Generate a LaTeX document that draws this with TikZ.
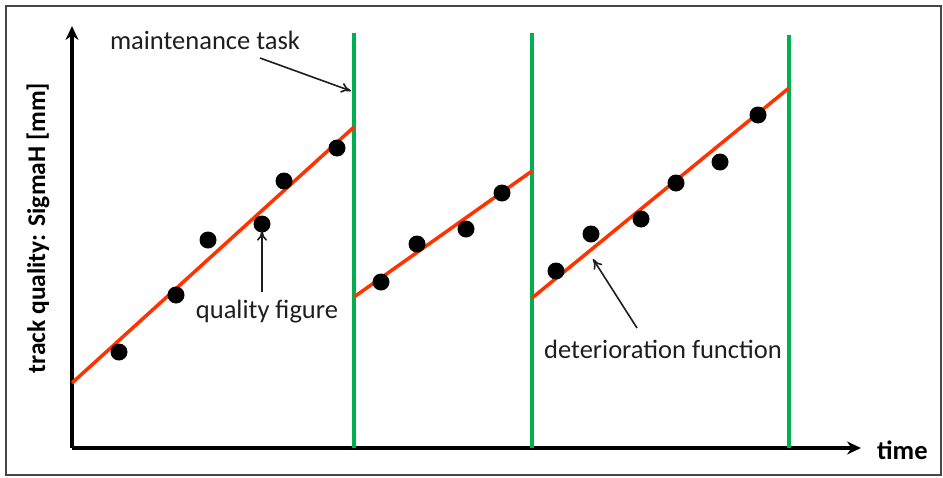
\documentclass[tikz,border=0pt]{standalone}
\usepackage{fontspec}
\setmainfont{Carlito}
\usetikzlibrary{arrows.meta}
\definecolor{mgreen}{RGB}{0,176,80}
\definecolor{fitred}{RGB}{255,51,0}
\definecolor{framegray}{RGB}{70,70,70}
\definecolor{txt}{RGB}{30,30,30}
\begin{document}
\begin{tikzpicture}[x=1pt,y=-1pt,
  axis/.style={line width=3.5pt,-{Stealth[length=14pt,width=13pt]}},
  taskline/.style={mgreen,line width=3.5pt},
  fitline/.style={fitred,line width=3.5pt},
  pt/.style={circle,fill=black,inner sep=0pt,minimum size=17pt},
  note/.style={font=\fontsize{26.5}{28}\selectfont,text=txt,inner sep=0pt},
  pointer/.style={line width=1.6pt,txt,-{To[length=10pt,width=10pt]}}]
\useasboundingbox (0,0) rectangle (943,477);
\draw[framegray,line width=1.2pt] (6,6) rectangle (941,475);

% axes
\coordinate (o) at (72,448);
\coordinate (ytop) at (72,26);
\coordinate (xend) at (861,448);
\draw[axis] (o) -- (ytop);
\draw[axis] (o) -- (xend);
\node[anchor=west,font=\bfseries\fontsize{26.5}{28}\selectfont,inner sep=0pt] (tlab) at (877,450) {time};
\node[rotate=90,font=\bfseries\fontsize{25.5}{28}\selectfont,inner sep=0pt] (ylab) at (38,228) {track quality: SigmaH [mm]};

% maintenance tasks
\foreach \n/\x/\t in {m1/354/33, m2/532/33, m3/789/35}{
  \coordinate (\n top) at (\x,\t);
  \coordinate (\n bot) at (\x,448);
  \draw[taskline] (\n top) -- (\n bot);
}

% deterioration functions between tasks
\coordinate (f1a) at (72,383);  \coordinate (f1b) at (354,127);
\coordinate (f2a) at (354,297); \coordinate (f2b) at (532,171);
\coordinate (f3a) at (532,298); \coordinate (f3b) at (789,88);
\draw[fitline] (f1a) -- (f1b);
\draw[fitline] (f2a) -- (f2b);
\draw[fitline] (f3a) -- (f3b);

% measured quality figures
\foreach \n/\x/\y in {p1/119/352, p2/176/295, p3/208/240, p4/262/224, p5/284/181, p6/337/148,
                      p7/381/282, p8/417/244, p9/466/229, p10/502/193,
                      p11/556/271, p12/591/234, p13/641/219, p14/676/183, p15/720/162, p16/758/115}
  \node[pt] (\n) at (\x,\y) {};

% annotations
\node[note] (mt) at (205,40) {maintenance task};
\coordinate (mtfrom) at (260,58);
\coordinate (mtto) at (351,91);
\draw[pointer] (mtfrom) -- (mtto);

\node[note] (qf) at (267,312) {quality figure};
\coordinate (qffrom) at (262,292);
\draw[pointer] (qffrom) -- ([yshift=2pt]p4.south);

\node[note] (df) at (663,349) {deterioration function};
\coordinate (dffrom) at (637,328);
\coordinate (dfto) at (593,259);
\draw[pointer] (dffrom) -- (dfto);
\end{tikzpicture}
\end{document}
